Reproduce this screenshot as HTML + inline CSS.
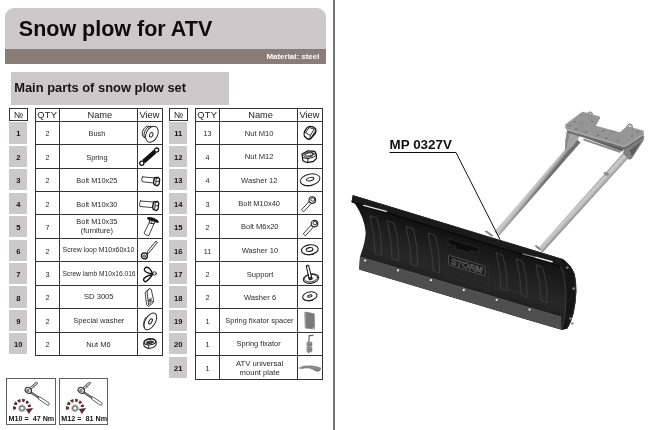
<!DOCTYPE html>
<html><head><meta charset="utf-8"><title>Snow plow for ATV</title>
<style>
html,body{margin:0;padding:0;background:#fff;}
body{width:650px;height:430px;position:relative;overflow:hidden;-webkit-font-smoothing:antialiased;font-family:"Liberation Sans",Arial,sans-serif;color:#1a1a1a;}
div{position:absolute;box-sizing:border-box;}
.ttl,.mat,.subt,.hc,.nh,.nc,.c,.tql{will-change:opacity;opacity:0.999}
.hdr{left:5px;top:8px;width:321px;height:42px;background:#cbc9ca;border-radius:9px 9px 0 0;}
.ttl{left:18.8px;top:14.4px;font-weight:bold;font-size:21.5px;line-height:30px;color:#0c0c0c;white-space:nowrap}
.bar{left:5px;top:49px;width:321px;height:14.5px;background:#8a7d78;}
.mat{right:330.6px;top:50.3px;height:14.5px;line-height:14.5px;font-size:7.95px;font-weight:bold;color:#fff;white-space:nowrap}
.sub{left:11px;top:72px;width:218px;height:32.5px;background:#cbc9ca;}
.subt{left:14.2px;top:72.2px;height:32.5px;line-height:31px;font-size:12.9px;font-weight:bold;color:#141414;white-space:nowrap}
.vline{left:333px;top:0;width:2px;height:430px;background:#747474;}
.hc,.nh{font-size:9.3px;line-height:12.4px;text-align:center;color:#222;}
.nh{font-size:8.8px;line-height:12.2px}
.ncb{background:#cbc9ca}
.nc{display:flex;align-items:center;justify-content:center;font-size:7.6px;font-weight:bold;color:#111}
.c{padding-top:3.2px;display:flex;align-items:center;justify-content:center;text-align:center;font-size:7.3px;line-height:8.4px;color:#2a2a2a}
.c span,.nc span{position:relative;display:block;white-space:nowrap}
.hc span{position:relative}
.c svg{position:static;display:block;flex:none}
.c.v{padding:0}
.c.two{line-height:8.3px}
.nc{padding-top:2px}
.tq{border:1px solid #606060;background:#fff}
.tql{font-size:7.2px;font-weight:bold;color:#111;white-space:nowrap;line-height:9px}
</style></head><body>
<div class="hdr"></div>
<div class="ttl">Snow plow for ATV</div>
<div class="bar"></div>
<div class="mat">Material: steel</div>
<div class="sub"></div>
<div class="subt">Main parts of snow plow set</div>
<div class="vline"></div>
<svg class="grid" style="position:absolute;left:0;top:0" width="336" height="430" viewBox="0 0 336 430"><g stroke="#333" stroke-width="1" fill="none"><rect x="9.50" y="108.50" width="18.00" height="12.00"/><line x1="35.50" y1="108.00" x2="35.50" y2="356.00"/><line x1="59.50" y1="108.00" x2="59.50" y2="356.00"/><line x1="137.50" y1="108.00" x2="137.50" y2="356.00"/><line x1="162.50" y1="108.00" x2="162.50" y2="356.00"/><line x1="35.00" y1="108.50" x2="163.00" y2="108.50"/><line x1="35.00" y1="121.50" x2="163.00" y2="121.50"/><line x1="35.00" y1="144.50" x2="163.00" y2="144.50"/><line x1="35.00" y1="168.50" x2="163.00" y2="168.50"/><line x1="35.00" y1="191.50" x2="163.00" y2="191.50"/><line x1="35.00" y1="214.50" x2="163.00" y2="214.50"/><line x1="35.00" y1="238.50" x2="163.00" y2="238.50"/><line x1="35.00" y1="261.50" x2="163.00" y2="261.50"/><line x1="35.00" y1="285.50" x2="163.00" y2="285.50"/><line x1="35.00" y1="308.50" x2="163.00" y2="308.50"/><line x1="35.00" y1="332.50" x2="163.00" y2="332.50"/><line x1="35.00" y1="355.50" x2="163.00" y2="355.50"/></g></svg>
<div class="nh" style="left:9.20px;top:108.50px;width:18.60px;height:12.10px">№</div>
<div class="hc" style="left:35.70px;top:108.50px;width:23.80px;height:12.70px"><span style="letter-spacing:0.25px;left:-0.3px">QTY</span></div>
<div class="hc" style="left:59.50px;top:108.50px;width:77.80px;height:12.70px"><span style="left:1.5px">Name</span></div>
<div class="hc" style="left:137.30px;top:108.50px;width:25.00px;height:12.70px"><span style="left:-0.4px">View</span></div>
<div class="ncb" style="left:9.40px;top:122.40px;width:17.80px;height:21.14px"></div>
<div class="nc" style="left:9.40px;top:122.40px;width:17.80px;height:21.14px"><span>1</span></div>
<div class="c q" style="left:35.70px;top:121.20px;width:23.80px;height:23.44px"><span>2</span></div>
<div class="c n" style="left:59.50px;top:121.20px;width:77.80px;height:23.44px"><span style="font-size:7.4px;left:-1.5px;top:0px">Bush</span></div>
<div class="c v" style="left:137.30px;top:121.20px;width:25.00px;height:23.44px"><svg width="25" height="23.44" viewBox="0 0 25 23.44" fill="none" stroke="#222" stroke-width="0.85" stroke-linecap="round" stroke-linejoin="round"><ellipse cx="9.6" cy="10.8" rx="3.9" ry="6.0" transform="rotate(26 9.6 10.8)" fill="#fff"/><ellipse cx="11.8" cy="11.6" rx="4.2" ry="6.8" transform="rotate(26 11.8 11.6)" fill="#fff"/><ellipse cx="14.9" cy="13.2" rx="5.7" ry="8.5" transform="rotate(26.5 14.9 13.2)" fill="#fff" stroke-width="0.95"/><ellipse cx="14.2" cy="13.8" rx="1.6" ry="2.4" transform="rotate(26.5 14.2 13.8)" fill="#fff" stroke-width="0.9"/></svg></div>
<div class="ncb" style="left:9.40px;top:145.84px;width:17.80px;height:21.14px"></div>
<div class="nc" style="left:9.40px;top:145.84px;width:17.80px;height:21.14px"><span>2</span></div>
<div class="c q" style="left:35.70px;top:144.64px;width:23.80px;height:23.44px"><span>2</span></div>
<div class="c n" style="left:59.50px;top:144.64px;width:77.80px;height:23.44px"><span style="font-size:7.4px;left:-1.5px;top:0px">Spring</span></div>
<div class="c v" style="left:137.30px;top:144.64px;width:25.00px;height:23.44px"><svg width="25" height="23.44" viewBox="0 0 25 23.44" fill="none" stroke="#222" stroke-width="0.85" stroke-linecap="round" stroke-linejoin="round"><circle cx="4.8" cy="18.3" r="2.1" stroke-width="1.3" stroke="#111"/><circle cx="19.6" cy="5.1" r="2.1" stroke-width="1.3" stroke="#111"/><line x1="6.6" y1="16.7" x2="17.9" y2="6.7" stroke="#111" stroke-width="4.4" stroke-linecap="butt"/></svg></div>
<div class="ncb" style="left:9.40px;top:169.28px;width:17.80px;height:21.14px"></div>
<div class="nc" style="left:9.40px;top:169.28px;width:17.80px;height:21.14px"><span>3</span></div>
<div class="c q" style="left:35.70px;top:168.08px;width:23.80px;height:23.44px"><span>2</span></div>
<div class="c n" style="left:59.50px;top:168.08px;width:77.80px;height:23.44px"><span style="font-size:7.4px;left:-1.5px;top:0px">Bolt M10x25</span></div>
<div class="c v" style="left:137.30px;top:168.08px;width:25.00px;height:23.44px"><svg width="25" height="23.44" viewBox="0 0 25 23.44" fill="none" stroke="#222" stroke-width="0.85" stroke-linecap="round" stroke-linejoin="round"><path d="M5.6,8.9 L17.6,9.9 L16.6,15 L5.2,13.7 Q3.6,11.2 5.6,8.9 Z" fill="#fff"/><path d="M17.6,9.7 L21.3,9.4 L22.7,11.2 L22.1,16.0 L20.4,17.8 L17.2,16.6 L16.5,14.8 Z" fill="#fff" stroke="#111" stroke-width="1.3"/><path d="M19.2,10.6 L18.6,16.4 M19.2,10.6 L21.2,9.6 M19.5,13.5 L22.3,13.0" stroke-width="0.9"/></svg></div>
<div class="ncb" style="left:9.40px;top:192.72px;width:17.80px;height:21.14px"></div>
<div class="nc" style="left:9.40px;top:192.72px;width:17.80px;height:21.14px"><span>4</span></div>
<div class="c q" style="left:35.70px;top:191.52px;width:23.80px;height:23.44px"><span>2</span></div>
<div class="c n" style="left:59.50px;top:191.52px;width:77.80px;height:23.44px"><span style="font-size:7.4px;left:-1.5px;top:0px">Bolt M10x30</span></div>
<div class="c v" style="left:137.30px;top:191.52px;width:25.00px;height:23.44px"><svg width="25" height="23.44" viewBox="0 0 25 23.44" fill="none" stroke="#222" stroke-width="0.85" stroke-linecap="round" stroke-linejoin="round"><path d="M3.4,9.0 L16.6,10.0 L15.8,15.6 L3.0,14.5 Q1.6,11.6 3.4,9.0 Z" fill="#fff"/><path d="M16.6,9.8 L20.6,9.4 L21.7,11.4 L21.2,16.8 L19.6,18.6 L16.2,17.4 L15.6,15.4 Z" fill="#fff" stroke="#111" stroke-width="1.3"/><path d="M18.2,10.8 L17.7,17.2 M18.2,10.8 L20.4,9.6 M18.3,14 L21.4,13.4" stroke-width="0.9"/></svg></div>
<div class="ncb" style="left:9.40px;top:216.16px;width:17.80px;height:21.14px"></div>
<div class="nc" style="left:9.40px;top:216.16px;width:17.80px;height:21.14px"><span>5</span></div>
<div class="c q" style="left:35.70px;top:214.96px;width:23.80px;height:23.44px"><span>7</span></div>
<div class="c n two" style="left:59.50px;top:214.96px;width:77.80px;height:23.44px"><span style="font-size:7.4px;left:-1.5px;top:-1.7px">Bolt M10x35<br>(furniture)</span></div>
<div class="c v" style="left:137.30px;top:214.96px;width:25.00px;height:23.44px"><svg width="25" height="23.44" viewBox="0 0 25 23.44" fill="none" stroke="#222" stroke-width="0.85" stroke-linecap="round" stroke-linejoin="round"><path d="M12.3,7.6 L7.0,18.2 Q8.6,20.6 11.9,20.5 L16.9,8.9 Z" fill="#fff"/><path d="M12.6,5.0 L12.2,7.8 L17.0,9.0 L18.2,6.6 Z" fill="#fff" stroke-width="1"/><path d="M15.0,5.8 L14.6,8.2" /><path d="M11.0,2.6 Q17.5,2.2 21.5,6.6 L21.0,7.6 Q15.5,5.6 11.2,4.2 Z" fill="#151515" stroke="#151515" stroke-width="1"/></svg></div>
<div class="ncb" style="left:9.40px;top:239.60px;width:17.80px;height:21.14px"></div>
<div class="nc" style="left:9.40px;top:239.60px;width:17.80px;height:21.14px"><span>6</span></div>
<div class="c q" style="left:35.70px;top:238.40px;width:23.80px;height:23.44px"><span>2</span></div>
<div class="c n" style="left:59.50px;top:238.40px;width:77.80px;height:23.44px"><span style="font-size:6.93px;left:0.1px;top:-1.5px">Screw loop M10x60x10</span></div>
<div class="c v" style="left:137.30px;top:238.40px;width:25.00px;height:23.44px"><svg width="25" height="23.44" viewBox="0 0 25 23.44" fill="none" stroke="#222" stroke-width="0.85" stroke-linecap="round" stroke-linejoin="round"><path d="M10.3,13.6 L18.9,3.1 L20.4,4.3 L11.9,15.0 Z" fill="#fff" stroke-width="0.9"/><circle cx="7.4" cy="17.9" r="3.0" fill="#fff" stroke="#111" stroke-width="1.3"/><circle cx="7.3" cy="18.1" r="1.1" fill="#fff" stroke-width="0.9"/><path d="M8.6,15.4 Q10.2,14.6 11.0,15.8" stroke-width="1"/></svg></div>
<div class="ncb" style="left:9.40px;top:263.04px;width:17.80px;height:21.14px"></div>
<div class="nc" style="left:9.40px;top:263.04px;width:17.80px;height:21.14px"><span>7</span></div>
<div class="c q" style="left:35.70px;top:261.84px;width:23.80px;height:23.44px"><span>3</span></div>
<div class="c n" style="left:59.50px;top:261.84px;width:77.80px;height:23.44px"><span style="font-size:6.65px;left:0.6px;top:-1.2px">Screw lamb M10x16.016</span></div>
<div class="c v" style="left:137.30px;top:261.84px;width:25.00px;height:23.44px"><svg width="25" height="23.44" viewBox="0 0 25 23.44" fill="none" stroke="#222" stroke-width="1.0" stroke-linecap="round" stroke-linejoin="round"><path d="M15.6,12.0 Q13.4,6.0 10.0,5.3 Q7.0,5.5 7.4,8.2 Q8.8,11.0 15.6,12.0 Z" fill="#fff" stroke="#111" stroke-width="1.4"/><path d="M15.4,12.7 Q9.6,13.7 7.0,16.4 Q5.8,18.6 8.2,19.9 Q11.6,18.6 15.4,12.7 Z" fill="#fff" stroke="#111" stroke-width="1.4"/><circle cx="17.6" cy="11.4" r="1.7" fill="#fff" stroke-width="1"/><circle cx="11.6" cy="12.4" r="0.8" fill="#999" stroke="none"/></svg></div>
<div class="ncb" style="left:9.40px;top:286.48px;width:17.80px;height:21.14px"></div>
<div class="nc" style="left:9.40px;top:286.48px;width:17.80px;height:21.14px"><span>8</span></div>
<div class="c q" style="left:35.70px;top:285.28px;width:23.80px;height:23.44px"><span>2</span></div>
<div class="c n" style="left:59.50px;top:285.28px;width:77.80px;height:23.44px"><span style="font-size:7.6px;left:0.4px;top:-1.0px">SD 3005</span></div>
<div class="c v" style="left:137.30px;top:285.28px;width:25.00px;height:23.44px"><svg width="25" height="23.44" viewBox="0 0 25 23.44" fill="none" stroke="#222" stroke-width="0.85" stroke-linecap="round" stroke-linejoin="round"><path d="M8.4,7.2 L12.4,3.6 L14.3,4.5 L16.6,15.4 L15.7,18.3 L11.3,21.5 L9.9,20.1 Z" fill="#fff"/><path d="M10.0,6.2 L11.6,19.6 M12.4,3.6 L10.2,6.4 M11.6,19.6 L16.0,16.0 M11.6,15.6 L14.4,13.2"/><ellipse cx="13.0" cy="15.4" rx="0.9" ry="1.5" transform="rotate(20 13 15.4)"/></svg></div>
<div class="ncb" style="left:9.40px;top:309.92px;width:17.80px;height:21.14px"></div>
<div class="nc" style="left:9.40px;top:309.92px;width:17.80px;height:21.14px"><span>9</span></div>
<div class="c q" style="left:35.70px;top:308.72px;width:23.80px;height:23.44px"><span>2</span></div>
<div class="c n" style="left:59.50px;top:308.72px;width:77.80px;height:23.44px"><span style="font-size:7.55px;left:0.4px;top:-1.2px">Special washer</span></div>
<div class="c v" style="left:137.30px;top:308.72px;width:25.00px;height:23.44px"><svg width="25" height="23.44" viewBox="0 0 25 23.44" fill="none" stroke="#222" stroke-width="0.85" stroke-linecap="round" stroke-linejoin="round"><ellipse cx="13.3" cy="12.4" rx="5.0" ry="9.3" transform="rotate(31 13.3 12.4)" fill="#fff" stroke-width="1"/><path d="M7.6,18.8 Q5.0,15.0 8.6,8.6" stroke-width="0.9"/><ellipse cx="13.5" cy="12.4" rx="1.4" ry="2.8" transform="rotate(31 13.5 12.4)" stroke-width="1"/></svg></div>
<div class="ncb" style="left:9.40px;top:333.36px;width:17.80px;height:21.14px"></div>
<div class="nc" style="left:9.40px;top:333.36px;width:17.80px;height:21.14px"><span>10</span></div>
<div class="c q" style="left:35.70px;top:332.16px;width:23.80px;height:23.44px"><span>2</span></div>
<div class="c n" style="left:59.50px;top:332.16px;width:77.80px;height:23.44px"><span style="font-size:7.6px;left:0.2px;top:-0.4px">Nut M6</span></div>
<div class="c v" style="left:137.30px;top:332.16px;width:25.00px;height:23.44px"><svg width="25" height="23.44" viewBox="0 0 25 23.44" fill="none" stroke="#222" stroke-width="0.85" stroke-linecap="round" stroke-linejoin="round"><path d="M6.8,10.4 Q7.6,7.2 12.8,6.6 Q18.2,6.6 19.2,9.6 L19.2,12.4 Q18.0,15.8 12.2,16.4 Q7.4,15.8 6.8,13.2 Z" fill="#fff" stroke-width="1.1"/><ellipse cx="13.0" cy="10.0" rx="5.6" ry="2.8" transform="rotate(-8 13 10)" stroke-width="1"/><ellipse cx="12.8" cy="10.4" rx="3.6" ry="1.3" transform="rotate(-10 12.8 10.4)" fill="#444" stroke-width="0.8"/><path d="M11.6,13.2 L11.6,16.2"/></svg></div>
<svg class="grid" style="position:absolute;left:0;top:0" width="336" height="430" viewBox="0 0 336 430"><g stroke="#333" stroke-width="1" fill="none"><rect x="169.50" y="108.50" width="18.00" height="12.00"/><line x1="195.50" y1="108.00" x2="195.50" y2="380.00"/><line x1="219.50" y1="108.00" x2="219.50" y2="380.00"/><line x1="297.50" y1="108.00" x2="297.50" y2="380.00"/><line x1="322.50" y1="108.00" x2="322.50" y2="380.00"/><line x1="195.00" y1="108.50" x2="323.00" y2="108.50"/><line x1="195.00" y1="121.50" x2="323.00" y2="121.50"/><line x1="195.00" y1="144.50" x2="323.00" y2="144.50"/><line x1="195.00" y1="168.50" x2="323.00" y2="168.50"/><line x1="195.00" y1="191.50" x2="323.00" y2="191.50"/><line x1="195.00" y1="214.50" x2="323.00" y2="214.50"/><line x1="195.00" y1="238.50" x2="323.00" y2="238.50"/><line x1="195.00" y1="261.50" x2="323.00" y2="261.50"/><line x1="195.00" y1="285.50" x2="323.00" y2="285.50"/><line x1="195.00" y1="308.50" x2="323.00" y2="308.50"/><line x1="195.00" y1="332.50" x2="323.00" y2="332.50"/><line x1="195.00" y1="355.50" x2="323.00" y2="355.50"/><line x1="195.00" y1="379.50" x2="323.00" y2="379.50"/></g></svg>
<div class="nh" style="left:169.20px;top:108.50px;width:18.60px;height:12.10px">№</div>
<div class="hc" style="left:195.70px;top:108.50px;width:23.80px;height:12.70px"><span style="letter-spacing:0.25px;left:-0.3px">QTY</span></div>
<div class="hc" style="left:219.50px;top:108.50px;width:77.80px;height:12.70px"><span style="left:2.2px">Name</span></div>
<div class="hc" style="left:297.30px;top:108.50px;width:25.00px;height:12.70px"><span style="left:-0.4px">View</span></div>
<div class="ncb" style="left:169.40px;top:122.40px;width:17.80px;height:21.14px"></div>
<div class="nc" style="left:169.40px;top:122.40px;width:17.80px;height:21.14px"><span>11</span></div>
<div class="c q" style="left:195.70px;top:121.20px;width:23.80px;height:23.44px"><span>13</span></div>
<div class="c n" style="left:219.50px;top:121.20px;width:77.80px;height:23.44px"><span style="font-size:7.6px;left:0.8px;top:-0.7px">Nut M10</span></div>
<div class="c v" style="left:297.30px;top:121.20px;width:25.00px;height:23.44px"><svg width="25" height="23.44" viewBox="0 0 25 23.44" fill="none" stroke="#222" stroke-width="0.85" stroke-linecap="round" stroke-linejoin="round"><path d="M12.4,5.4 Q16.6,5.4 18.4,7.6 Q19.4,9.6 18.3,12.2 L13.6,17.7 Q11.6,18.8 10.0,17.6 L7.4,15.2 Q6.2,12.6 8.0,9.6 Q10.0,6.2 12.4,5.4 Z" fill="#fff" stroke="#111" stroke-width="1.35"/><path d="M8.6,11.8 L13.4,14.4 L12.7,17.8 M13.4,14.4 L17.2,8.1 M8.6,11.8 L12.2,6.6 L17.2,8.1" stroke-width="0.9"/><path d="M14.9,15.4 L18.0,10.4" stroke-width="0.8"/></svg></div>
<div class="ncb" style="left:169.40px;top:145.84px;width:17.80px;height:21.14px"></div>
<div class="nc" style="left:169.40px;top:145.84px;width:17.80px;height:21.14px"><span>12</span></div>
<div class="c q" style="left:195.70px;top:144.64px;width:23.80px;height:23.44px"><span>4</span></div>
<div class="c n" style="left:219.50px;top:144.64px;width:77.80px;height:23.44px"><span style="font-size:7.6px;left:0.8px;top:-0.9px">Nut M12</span></div>
<div class="c v" style="left:297.30px;top:144.64px;width:25.00px;height:23.44px"><svg width="25" height="23.44" viewBox="0 0 25 23.44" fill="none" stroke="#222" stroke-width="0.85" stroke-linecap="round" stroke-linejoin="round"><path d="M5.2,9.0 L10.8,5.8 L17.7,6.4 L19.2,9.3 L19.5,13.4 L16.6,16.3 L10.2,17.7 L5.8,15.7 Z" fill="#fff" stroke="#111" stroke-width="1.2"/><path d="M5.2,9.0 L5.5,12.5 L10.8,13.7 L17.2,11.9 L19.2,9.3 M10.8,13.7 L10.8,17.4" stroke-width="1"/><ellipse cx="11.9" cy="9.6" rx="5.2" ry="2.3" transform="rotate(-9 11.9 9.6)" stroke-width="0.9"/><ellipse cx="12.1" cy="9.4" rx="4.0" ry="1.5" transform="rotate(-9 12.1 9.4)" stroke-width="0.8"/></svg></div>
<div class="ncb" style="left:169.40px;top:169.28px;width:17.80px;height:21.14px"></div>
<div class="nc" style="left:169.40px;top:169.28px;width:17.80px;height:21.14px"><span>13</span></div>
<div class="c q" style="left:195.70px;top:168.08px;width:23.80px;height:23.44px"><span>4</span></div>
<div class="c n" style="left:219.50px;top:168.08px;width:77.80px;height:23.44px"><span style="font-size:7.6px;left:0.9px;top:-0.7px">Washer 12</span></div>
<div class="c v" style="left:297.30px;top:168.08px;width:25.00px;height:23.44px"><svg width="25" height="23.44" viewBox="0 0 25 23.44" fill="none" stroke="#222" stroke-width="0.85" stroke-linecap="round" stroke-linejoin="round"><ellipse cx="13.1" cy="11.7" rx="10.0" ry="5.6" transform="rotate(-12 13.1 11.7)" fill="#fff" stroke-width="1"/><path d="M3.6,14.6 Q6.4,19.4 15.0,17.6" stroke-width="0.9"/><ellipse cx="13.2" cy="11.2" rx="3.8" ry="1.6" transform="rotate(-12 13.2 11.2)" stroke-width="1"/></svg></div>
<div class="ncb" style="left:169.40px;top:192.72px;width:17.80px;height:21.14px"></div>
<div class="nc" style="left:169.40px;top:192.72px;width:17.80px;height:21.14px"><span>14</span></div>
<div class="c q" style="left:195.70px;top:191.52px;width:23.80px;height:23.44px"><span>3</span></div>
<div class="c n" style="left:219.50px;top:191.52px;width:77.80px;height:23.44px"><span style="font-size:7.5px;left:0.8px;top:-1.0px">Bolt M10x40</span></div>
<div class="c v" style="left:297.30px;top:191.52px;width:25.00px;height:23.44px"><svg width="25" height="23.44" viewBox="0 0 25 23.44" fill="none" stroke="#222" stroke-width="0.85" stroke-linecap="round" stroke-linejoin="round"><path d="M12.48,9.05 L4.53,17.83 L6.67,19.77 L14.63,11.00 Z" fill="#fff" stroke-width="0.9"/><circle cx="15.3" cy="8.1" r="3.3" fill="#fff" stroke-width="1.1"/><ellipse cx="15.8" cy="7.6" rx="2.0" ry="1.7" stroke-width="0.9"/></svg></div>
<div class="ncb" style="left:169.40px;top:216.16px;width:17.80px;height:21.14px"></div>
<div class="nc" style="left:169.40px;top:216.16px;width:17.80px;height:21.14px"><span>15</span></div>
<div class="c q" style="left:195.70px;top:214.96px;width:23.80px;height:23.44px"><span>2</span></div>
<div class="c n" style="left:219.50px;top:214.96px;width:77.80px;height:23.44px"><span style="font-size:7.5px;left:1.4px;top:-0.6px">Bolt M6x20</span></div>
<div class="c v" style="left:297.30px;top:214.96px;width:25.00px;height:23.44px"><svg width="25" height="23.44" viewBox="0 0 25 23.44" fill="none" stroke="#222" stroke-width="0.85" stroke-linecap="round" stroke-linejoin="round"><path d="M14.68,9.55 L6.23,18.82 L8.37,20.78 L16.82,11.50 Z" fill="#fff" stroke-width="0.9"/><circle cx="17.5" cy="8.6" r="3.3" fill="#fff" stroke-width="1.1"/><ellipse cx="18.0" cy="8.1" rx="2.0" ry="1.7" stroke-width="0.9"/></svg></div>
<div class="ncb" style="left:169.40px;top:239.60px;width:17.80px;height:21.14px"></div>
<div class="nc" style="left:169.40px;top:239.60px;width:17.80px;height:21.14px"><span>16</span></div>
<div class="c q" style="left:195.70px;top:238.40px;width:23.80px;height:23.44px"><span>11</span></div>
<div class="c n" style="left:219.50px;top:238.40px;width:77.80px;height:23.44px"><span style="font-size:7.6px;left:1.5px;top:-1.0px">Washer 10</span></div>
<div class="c v" style="left:297.30px;top:238.40px;width:25.00px;height:23.44px"><svg width="25" height="23.44" viewBox="0 0 25 23.44" fill="none" stroke="#222" stroke-width="0.85" stroke-linecap="round" stroke-linejoin="round"><ellipse cx="12.8" cy="11.7" rx="8.4" ry="4.9" transform="rotate(-8 12.8 11.7)" fill="#fff" stroke-width="1.1"/><path d="M4.8,14.0 Q8.0,18.2 16.4,16.4" stroke-width="0.9"/><ellipse cx="12.6" cy="11.5" rx="3.4" ry="1.9" transform="rotate(-8 12.6 11.5)" stroke-width="1.1"/></svg></div>
<div class="ncb" style="left:169.40px;top:263.04px;width:17.80px;height:21.14px"></div>
<div class="nc" style="left:169.40px;top:263.04px;width:17.80px;height:21.14px"><span>17</span></div>
<div class="c q" style="left:195.70px;top:261.84px;width:23.80px;height:23.44px"><span>2</span></div>
<div class="c n" style="left:219.50px;top:261.84px;width:77.80px;height:23.44px"><span style="font-size:7.6px;left:1.7px;top:0.5px">Support</span></div>
<div class="c v" style="left:297.30px;top:261.84px;width:25.00px;height:23.44px"><svg width="25" height="23.44" viewBox="0 0 25 23.44" fill="none" stroke="#222" stroke-width="0.85" stroke-linecap="round" stroke-linejoin="round"><ellipse cx="14.0" cy="16.6" rx="7.8" ry="4.6" transform="rotate(-10 14 16.6)" fill="#fff" stroke-width="1.1"/><ellipse cx="14.0" cy="16.2" rx="6.6" ry="3.6" transform="rotate(-10 14 16.2)" stroke-width="0.8"/><path d="M9.6,3.6 L11.6,3.2 L15.0,16.8 L12.6,17.4 Z" fill="#fff" stroke="#111" stroke-width="1"/><path d="M12.2,15.6 L14.8,15.0 L15.2,17.2 L12.8,17.8 Z" fill="#222" stroke="#222"/><circle cx="10.6" cy="3.6" r="0.9" fill="#333" stroke="none"/></svg></div>
<div class="ncb" style="left:169.40px;top:286.48px;width:17.80px;height:21.14px"></div>
<div class="nc" style="left:169.40px;top:286.48px;width:17.80px;height:21.14px"><span>18</span></div>
<div class="c q" style="left:195.70px;top:285.28px;width:23.80px;height:23.44px"><span>2</span></div>
<div class="c n" style="left:219.50px;top:285.28px;width:77.80px;height:23.44px"><span style="font-size:7.6px;left:1.7px;top:0px">Washer 6</span></div>
<div class="c v" style="left:297.30px;top:285.28px;width:25.00px;height:23.44px"><svg width="25" height="23.44" viewBox="0 0 25 23.44" fill="none" stroke="#222" stroke-width="0.85" stroke-linecap="round" stroke-linejoin="round"><ellipse cx="12.8" cy="11.2" rx="7.3" ry="4.3" transform="rotate(-12 12.8 11.2)" fill="#fff" stroke-width="1.1"/><path d="M5.8,13.6 Q8.6,17.0 15.6,15.4" stroke-width="0.9"/><ellipse cx="12.8" cy="11.0" rx="2.2" ry="1.1" transform="rotate(-12 12.8 11.0)" stroke-width="1.1"/></svg></div>
<div class="ncb" style="left:169.40px;top:309.92px;width:17.80px;height:21.14px"></div>
<div class="nc" style="left:169.40px;top:309.92px;width:17.80px;height:21.14px"><span>19</span></div>
<div class="c q" style="left:195.70px;top:308.72px;width:23.80px;height:23.44px"><span>1</span></div>
<div class="c n" style="left:219.50px;top:308.72px;width:77.80px;height:23.44px"><span style="font-size:7.45px;left:1.0px;top:-0.4px">Spring fixator spacer</span></div>
<div class="c v" style="left:297.30px;top:308.72px;width:25.00px;height:23.44px"><svg width="25" height="23.44" viewBox="0 0 25 23.44" fill="none" stroke="#222" stroke-width="0.85" stroke-linecap="round" stroke-linejoin="round"><path d="M7.9,3.3 L9.6,3.1 L17.3,4.8 L17.6,20.2 L8.6,19.1 Z" fill="#7a7a7a" stroke="#6e6e6e" stroke-width="0.5"/><path d="M8.3,3.4 L9.0,19.0" stroke="#9a9a9a" stroke-width="0.8"/><circle cx="16.4" cy="19.2" r="0.7" fill="#fff" stroke="none"/><circle cx="8.6" cy="4.6" r="0.5" fill="#ddd" stroke="none"/></svg></div>
<div class="ncb" style="left:169.40px;top:333.36px;width:17.80px;height:21.14px"></div>
<div class="nc" style="left:169.40px;top:333.36px;width:17.80px;height:21.14px"><span>20</span></div>
<div class="c q" style="left:195.70px;top:332.16px;width:23.80px;height:23.44px"><span>1</span></div>
<div class="c n" style="left:219.50px;top:332.16px;width:77.80px;height:23.44px"><span style="font-size:7.5px;left:0.3px;top:-0.8px">Spring fixator</span></div>
<div class="c v" style="left:297.30px;top:332.16px;width:25.00px;height:23.44px"><svg width="25" height="23.44" viewBox="0 0 25 23.44" fill="none" stroke="#222" stroke-width="0.85" stroke-linecap="round" stroke-linejoin="round"><path d="M16.0,3.3 L12.1,3.6 L11.7,20.4" stroke="#666" stroke-width="1.2"/><rect x="10.3" y="10.2" width="4.5" height="4.0" fill="#9a9a9a" stroke="#666" stroke-width="0.6"/><rect x="10.3" y="15.4" width="4.5" height="4.4" fill="#9a9a9a" stroke="#666" stroke-width="0.6"/><path d="M10.3,12.2 L14.8,12.2 M10.3,17.6 L14.8,17.6" stroke="#555" stroke-width="0.6"/></svg></div>
<div class="ncb" style="left:169.40px;top:356.80px;width:17.80px;height:21.14px"></div>
<div class="nc" style="left:169.40px;top:356.80px;width:17.80px;height:21.14px"><span>21</span></div>
<div class="c q" style="left:195.70px;top:355.60px;width:23.80px;height:23.44px"><span>1</span></div>
<div class="c n two" style="left:219.50px;top:355.60px;width:77.80px;height:23.44px"><span style="font-size:7.7px;left:1.2px;top:-0.3px">ATV universal<br>mount plate</span></div>
<div class="c v" style="left:297.30px;top:355.60px;width:25.00px;height:23.44px"><svg width="25" height="23.44" viewBox="0 0 25 23.44" fill="none" stroke="#222" stroke-width="0.85" stroke-linecap="round" stroke-linejoin="round"><path d="M2.0,11.9 L6.5,10.1 L14.5,9.8 L20.2,10.8 L24.0,12.0 L23.1,14.0 L20.8,15.3 L16.8,13.7 L12.2,12.1 L7.7,12.0 L4.8,12.7 Z" fill="#8a8a8a" stroke="#7a7a7a" stroke-width="0.5"/><path d="M16.8,13.8 L20.8,15.3 L23.1,14.0" stroke="#555" stroke-width="0.7"/></svg></div>
<div class="tq" style="left:5.9px;top:378.2px;width:49.8px;height:46.6px"></div>
<svg style="position:absolute;left:5.9px;top:378px" width="50" height="47" viewBox="0 0 50 47"><line x1="22.3" y1="12.4" x2="30.5" y2="5.1000000000000005" stroke="#333" stroke-width="2.6" stroke-linecap="round"/><line x1="22.3" y1="12.4" x2="30.5" y2="5.1000000000000005" stroke="#e8e8e8" stroke-width="1.2" stroke-linecap="round"/><line x1="27.5" y1="7.800000000000001" x2="28.9" y2="9.4" stroke="#333" stroke-width="0.8"/><line x1="23.3" y1="13.4" x2="33.8" y2="20.4" stroke="#333" stroke-width="2.2" stroke-linecap="round"/><line x1="23.3" y1="13.4" x2="33.8" y2="20.4" stroke="#bbb" stroke-width="0.8" stroke-linecap="round"/><line x1="33.8" y1="20.4" x2="41.900000000000006" y2="25.8" stroke="#333" stroke-width="3.4" stroke-linecap="round"/><line x1="33.8" y1="20.4" x2="41.900000000000006" y2="25.8" stroke="#fff" stroke-width="2.0" stroke-linecap="round"/><ellipse cx="22.3" cy="12.4" rx="3.4" ry="2.7" transform="rotate(35 22.3 12.4)" fill="#ddd" stroke="#333" stroke-width="1"/><circle cx="21.900000000000002" cy="12.6" r="1.2" fill="#999" stroke="#444" stroke-width="0.5"/><polygon points="7.12,32.11 7.05,28.00 10.02,28.95 10.06,31.05" fill="#5e2b35"/><polygon points="7.52,26.47 9.76,23.21 11.65,25.70 10.52,27.34" fill="#5e2b35"/><polygon points="11.02,22.23 14.41,20.89 14.64,24.01 12.97,24.66" fill="#5e2b35"/><polygon points="16.00,20.75 19.43,21.42 17.97,24.18 16.32,23.86" fill="#5e2b35"/><polygon points="20.85,22.14 23.40,24.52 20.70,26.09 19.47,24.94" fill="#5e2b35"/><polygon points="24.22,25.89 25.10,28.94 21.98,28.95 21.57,27.54" fill="#5e2b35"/><polygon points="19.70,31.10 27.20,29.90 22.90,36.10" fill="#5e2b35"/><circle cx="16.0" cy="30.2" r="3.3" fill="none" stroke="#8a8a8a" stroke-width="1.0" stroke-dasharray="1.2 0.7"/><circle cx="16.0" cy="30.2" r="2.3" fill="#fff" stroke="#808080" stroke-width="1.5"/></svg>
<div class="tql" style="left:8.5px;top:414.3px">M10 =&nbsp; 47 Nm</div>
<div class="tq" style="left:58.7px;top:378.2px;width:49.8px;height:46.6px"></div>
<svg style="position:absolute;left:58.7px;top:378px" width="50" height="47" viewBox="0 0 50 47"><line x1="22.3" y1="12.4" x2="30.5" y2="5.1000000000000005" stroke="#333" stroke-width="2.6" stroke-linecap="round"/><line x1="22.3" y1="12.4" x2="30.5" y2="5.1000000000000005" stroke="#e8e8e8" stroke-width="1.2" stroke-linecap="round"/><line x1="27.5" y1="7.800000000000001" x2="28.9" y2="9.4" stroke="#333" stroke-width="0.8"/><line x1="23.3" y1="13.4" x2="33.8" y2="20.4" stroke="#333" stroke-width="2.2" stroke-linecap="round"/><line x1="23.3" y1="13.4" x2="33.8" y2="20.4" stroke="#bbb" stroke-width="0.8" stroke-linecap="round"/><line x1="33.8" y1="20.4" x2="41.900000000000006" y2="25.8" stroke="#333" stroke-width="3.4" stroke-linecap="round"/><line x1="33.8" y1="20.4" x2="41.900000000000006" y2="25.8" stroke="#fff" stroke-width="2.0" stroke-linecap="round"/><ellipse cx="22.3" cy="12.4" rx="3.4" ry="2.7" transform="rotate(35 22.3 12.4)" fill="#ddd" stroke="#333" stroke-width="1"/><circle cx="21.900000000000002" cy="12.6" r="1.2" fill="#999" stroke="#444" stroke-width="0.5"/><polygon points="7.12,32.11 7.05,28.00 10.02,28.95 10.06,31.05" fill="#5e2b35"/><polygon points="7.52,26.47 9.76,23.21 11.65,25.70 10.52,27.34" fill="#5e2b35"/><polygon points="11.02,22.23 14.41,20.89 14.64,24.01 12.97,24.66" fill="#5e2b35"/><polygon points="16.00,20.75 19.43,21.42 17.97,24.18 16.32,23.86" fill="#5e2b35"/><polygon points="20.85,22.14 23.40,24.52 20.70,26.09 19.47,24.94" fill="#5e2b35"/><polygon points="24.22,25.89 25.10,28.94 21.98,28.95 21.57,27.54" fill="#5e2b35"/><polygon points="19.70,31.10 27.20,29.90 22.90,36.10" fill="#5e2b35"/><circle cx="16.0" cy="30.2" r="3.3" fill="none" stroke="#8a8a8a" stroke-width="1.0" stroke-dasharray="1.2 0.7"/><circle cx="16.0" cy="30.2" r="2.3" fill="#fff" stroke="#808080" stroke-width="1.5"/></svg>
<div class="tql" style="left:61.300000000000004px;top:414.3px">M12 =&nbsp; 81 Nm</div>
<svg style="position:absolute;left:336px;top:0" width="314" height="430" viewBox="336 0 314 430">
<defs>
<linearGradient id="bg" gradientUnits="userSpaceOnUse" x1="455" y1="228" x2="437" y2="288"><stop offset="0" stop-color="#0e0e0e"/><stop offset="0.35" stop-color="#1d1d1d"/><stop offset="0.7" stop-color="#272727"/><stop offset="1" stop-color="#1b1b1b"/></linearGradient>
<linearGradient id="tl" gradientUnits="userSpaceOnUse" x1="532" y1="184" x2="538.5" y2="189.2"><stop offset="0" stop-color="#a8a8a8"/><stop offset="0.3" stop-color="#cdcdcd"/><stop offset="0.65" stop-color="#b4b4b4"/><stop offset="1" stop-color="#707070"/></linearGradient>
<linearGradient id="tr" gradientUnits="userSpaceOnUse" x1="580" y1="200.5" x2="586" y2="206"><stop offset="0" stop-color="#a8a8a8"/><stop offset="0.3" stop-color="#cdcdcd"/><stop offset="0.65" stop-color="#b4b4b4"/><stop offset="1" stop-color="#707070"/></linearGradient>
</defs>
<polygon points="575.1,137.6 494.3,232.0 498.9,236.0 580.5,142.4" fill="url(#tl)"/>
<polygon points="624.3,151.6 537.9,248.4 542.5,252.6 629.7,156.4" fill="url(#tr)"/>
<polygon points="484.3,231.2 486.6,230.6 493.5,235.4 491.6,236.8" fill="#8a8a8a"/>
<polygon points="534.4,245.8 536.6,245.3 541,249 539.4,250.2" fill="#808080"/>
<polygon points="603,172.5 607,172 610,175 606,176" fill="#8a8a8a"/>
<polygon points="580.0,136.0 622.0,151.5 625.0,147.5 581.0,133.0" fill="#5c5c5c"/>
<polygon points="583.0,140.2 620.0,153.0 621.0,151.0 584.0,138.4" fill="#8a8a8a"/>
<polygon points="567.0,130.5 581.0,134.5 573.0,146.0 565.0,151.5 565.5,140.0" fill="#a4a4a4"/>
<polygon points="567.0,131.0 570.0,132.0 566.5,148.0 565.0,151.5 565.5,140.0" fill="#8a8a8a"/>
<polygon points="627.0,145.7 643.7,135.4 643.9,140.0 631.5,158.9 629.0,159.7 623.3,153.8 623.8,147.4" fill="#808080"/>
<polygon points="629.5,150.5 641.5,141.0 632.0,156.5" fill="#5e5e5e"/>
<polygon points="567.0,130.3 623.5,147.0 627.0,145.7 643.7,135.0 643.7,137.2 627.0,147.9 623.5,149.2 567.0,132.5" fill="#6a6a6a"/>
<polygon points="565.3,124.5 580.9,112.7 583.0,111.8 599.8,116.6 600.0,118.5 595.8,125.7 620.0,132.2 627.0,125.9 643.7,130.8 643.7,135.0 627.0,145.7 623.5,147.0 567.0,130.3 565.3,128.0" fill="#969696"/>
<polygon points="567.0,130.3 623.5,147.0 627.0,145.7 643.7,135.0 643.7,133.6 627.0,144.2 623.5,145.5 567.0,128.8" fill="#a6a6a6"/>
<ellipse cx="570" cy="125.5" rx="1.2" ry="0.65" fill="#6f6f6f"/>
<ellipse cx="576" cy="129" rx="1.2" ry="0.65" fill="#6f6f6f"/>
<ellipse cx="586" cy="132" rx="1.2" ry="0.65" fill="#6f6f6f"/>
<ellipse cx="598" cy="135.5" rx="1.2" ry="0.65" fill="#6f6f6f"/>
<ellipse cx="606" cy="138" rx="1.2" ry="0.65" fill="#6f6f6f"/>
<ellipse cx="618" cy="141" rx="1.2" ry="0.65" fill="#6f6f6f"/>
<ellipse cx="632" cy="136" rx="1.2" ry="0.65" fill="#6f6f6f"/>
<ellipse cx="638" cy="132" rx="1.2" ry="0.65" fill="#6f6f6f"/>
<ellipse cx="592" cy="121.5" rx="1.2" ry="0.65" fill="#6f6f6f"/>
<ellipse cx="603" cy="131" rx="1.2" ry="0.65" fill="#6f6f6f"/>
<ellipse cx="575" cy="121.5" rx="1.2" ry="0.65" fill="#6f6f6f"/>
<path d="M587.9,118.5 L587.9,113.9 Q590,110.9 592.1,113.9 L592.1,119.5" fill="none" stroke="#6a6a6a" stroke-width="1.7"/><path d="M587.9,118.5 L587.9,113.9 Q590,110.9 592.1,113.9 L592.1,119.5" fill="none" stroke="#c8c8c8" stroke-width="0.8"/>
<path d="M578.9,129 L578.9,124.4 Q581,121.4 583.1,124.4 L583.1,130" fill="none" stroke="#6a6a6a" stroke-width="1.7"/><path d="M578.9,129 L578.9,124.4 Q581,121.4 583.1,124.4 L583.1,130" fill="none" stroke="#c8c8c8" stroke-width="0.8"/>
<path d="M610.1999999999999,138 L610.1999999999999,133.4 Q612.3,130.4 614.4,133.4 L614.4,139" fill="none" stroke="#6a6a6a" stroke-width="1.7"/><path d="M610.1999999999999,138 L610.1999999999999,133.4 Q612.3,130.4 614.4,133.4 L614.4,139" fill="none" stroke="#c8c8c8" stroke-width="0.8"/>
<path d="M627.6999999999999,130.5 L627.6999999999999,125.9 Q629.8,122.9 631.9,125.9 L631.9,131.5" fill="none" stroke="#6a6a6a" stroke-width="1.7"/><path d="M627.6999999999999,130.5 L627.6999999999999,125.9 Q629.8,122.9 631.9,125.9 L631.9,131.5" fill="none" stroke="#c8c8c8" stroke-width="0.8"/>
<polyline points="389.5,152.5 456,152.5 500,239.5" fill="none" stroke="#111" stroke-width="1"/>
<text x="389.6" y="149.3" font-family="Liberation Sans, Arial, sans-serif" font-weight="bold" font-size="13.4" fill="#111">MP 0327V</text>
<path d="M352.8,195.3 L563.4,259.4 Q572,266 574.6,274 Q578.4,291 573.6,313 Q570.5,324 567,328.8 L561.4,329.8 L359.2,269.5 L360,256.7 Q366,240 365.6,232 Q364.5,218 354.8,203.5 L351.5,201.7 Z" fill="url(#bg)"/>
<path d="M370,215.5 L377,218.1 Q382,234.5 381.5,255.6 L375,253.5 Q375,234.5 370,215.5 Z" fill="none" stroke="#434343" stroke-width="0.8"/>
<path d="M387,220.6 L394,223.2 Q399,239.6 398.5,260.70000000000005 L392,258.6 Q392,239.6 387,220.6 Z" fill="none" stroke="#434343" stroke-width="0.8"/>
<path d="M406,226.3 L413,228.9 Q418,245.3 417.5,266.40000000000003 L411,264.3 Q411,245.3 406,226.3 Z" fill="none" stroke="#434343" stroke-width="0.8"/>
<path d="M428,232.9 L435,235.5 Q440,251.9 439.5,273.0 L433,270.9 Q433,251.9 428,232.9 Z" fill="none" stroke="#434343" stroke-width="0.8"/>
<path d="M496,252.8 L502.5,255.25 Q507.5,270.8 507.0,290.75 L501,288.8 Q501,270.8 496,252.8 Z" fill="none" stroke="#434343" stroke-width="0.8"/>
<path d="M516,258.8 L522.5,261.25 Q527.5,276.8 527.0,296.75 L521,294.8 Q521,276.8 516,258.8 Z" fill="none" stroke="#434343" stroke-width="0.8"/>
<path d="M536,264.8 L542.5,267.25 Q547.5,282.8 547.0,302.75 L541,300.8 Q541,282.8 536,264.8 Z" fill="none" stroke="#434343" stroke-width="0.8"/>
<path d="M448,238.5 L478.5,247.7 L478.5,252.6 L470,250.3 L469,252.6 L455,248.6 L455.6,246 L448,243.8 Z" fill="#0c0c0c" stroke="#333" stroke-width="0.6"/>
<g transform="translate(448.6,255.6) skewY(16.8)"><rect x="0" y="-0.4" width="36.5" height="9.6" rx="1.6" fill="#141414" stroke="#5a5a5a" stroke-width="0.8"/><text x="2.2" y="7.4" font-family="Liberation Sans, Arial, sans-serif" font-weight="bold" font-style="italic" font-size="8.4" textLength="32" lengthAdjust="spacingAndGlyphs" fill="#1a1a1a" stroke="#6c6c6c" stroke-width="0.55">STORM</text></g>
<path d="M446,251 L446,276 L489,289.5 L489,264" fill="none" stroke="#2f2f2f" stroke-width="0.7"/>
<path d="M352.8,195.3 L563.4,259.4 L560.2,266.2 L351.5,201.7 Z" fill="#1a1a1a"/>
<path d="M352.8,195.5 L563.4,259.6" stroke="#2c2c2c" stroke-width="0.8"/>
<path d="M351.8,201.9 L560.2,266.3" stroke="#080808" stroke-width="1.2"/>
<path d="M363.6,205.4 L386.2,211.4" stroke="#e4e4e4" stroke-width="1.5" stroke-linecap="round"/>
<path d="M523,254 L536,257.4" stroke="#8e8e8e" stroke-width="1.2" stroke-linecap="round"/>
<path d="M536,257.4 L552,261.7" stroke="#ececec" stroke-width="1.5" stroke-linecap="round"/>
<path d="M360,256.7 L561.4,317 L561.4,329.8 L359.2,269.5 Z" fill="#4e4e4e"/>
<path d="M360,256.9 L561.4,317.2" stroke="#5a5a5a" stroke-width="0.7"/>
<circle cx="365.1" cy="260.6" r="1.15" fill="#ececec"/>
<circle cx="398.0" cy="270.4" r="1.15" fill="#ececec"/>
<circle cx="430.9" cy="280.2" r="1.15" fill="#ececec"/>
<circle cx="463.8" cy="290.0" r="1.15" fill="#ececec"/>
<circle cx="496.7" cy="299.8" r="1.15" fill="#ececec"/>
<circle cx="529.6" cy="309.6" r="1.15" fill="#ececec"/>
<path d="M563.4,259.4 Q572,266 574.6,274 Q578.4,291 573.6,313 Q570.5,324 567,328.8 L561.4,329.8 Q566,318 566,296 Q565.5,274 560.2,266.2 Z" fill="#161616"/>
<path d="M560.6,266.4 Q565.6,276 566,296 Q566,316 561.8,329" fill="none" stroke="#4a4a4a" stroke-width="0.7"/>
<path d="M563.8,259.8 Q572,266.4 574.4,274.4 Q578,291 573.4,312.6 Q570.4,323.6 567,328.4" fill="none" stroke="#3a3a3a" stroke-width="0.8"/>
<circle cx="567.4" cy="267.6" r="1.2" fill="#8a8a8a"/>
<circle cx="573.6" cy="288.5" r="1.2" fill="#8a8a8a"/>
<circle cx="570.5" cy="318.5" r="1.2" fill="#8a8a8a"/>
<circle cx="572.3" cy="323.5" r="1.2" fill="#8a8a8a"/>
</svg>
</body></html>
